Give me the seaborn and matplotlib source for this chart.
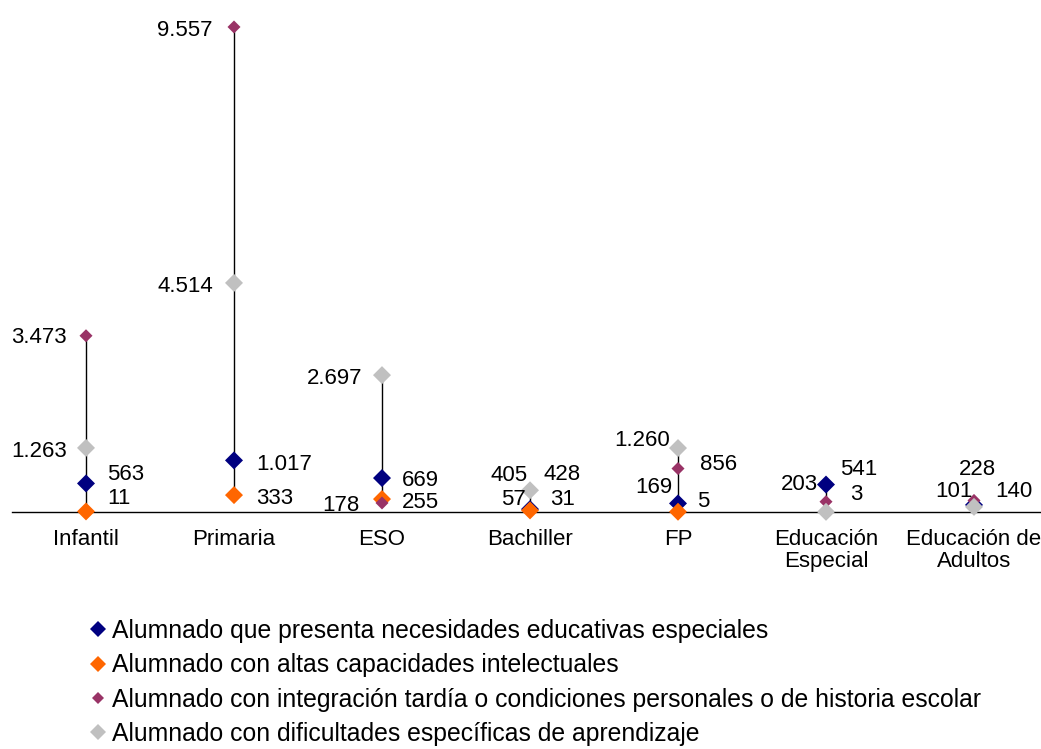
import numpy as np
import pandas as pd
import matplotlib
matplotlib.use('Agg')
import matplotlib.pyplot as plt
from matplotlib.lines import Line2D
import seaborn as sns

# Etapas educativas
etapas = ['Infantil', 'Primaria', 'ESO', 'Bachiller', 'FP',
          'Educación\nEspecial', 'Educación de\nAdultos']

# Series (nan = sin dato)
nee = [563, 1017, 669, 57, 169, 541, 140]
altas_cap = [11, 333, 255, 31, 5, np.nan, np.nan]
integracion = [3473, 9557, 178, 405, 856, 203, 228]
dificultades = [1263, 4514, 2697, 428, 1260, 3, 101]

series = [
    'Alumnado que presenta necesidades educativas especiales',
    'Alumnado con altas capacidades intelectuales',
    'Alumnado con integración tardía o condiciones personales o de historia escolar',
    'Alumnado con dificultades específicas de aprendizaje',
]
valores = [nee, altas_cap, integracion, dificultades]

colores = ['#000080', '#FF6600', '#993366', '#C0C0C0']
tamanos = [84, 84, 44, 84]

# posicion de cada etiqueta: (dx px, dy px, alineacion)
offsets = {
    (0, 0): (21, 11, 'left'), (0, 1): (21, 15, 'left'),
    (0, 2): (-19, 0, 'right'), (0, 3): (-19, -2, 'right'),
    (1, 0): (22, -2, 'left'), (1, 1): (22, -1, 'left'),
    (1, 2): (-21, -2, 'right'), (1, 3): (-21, -2, 'right'),
    (2, 0): (20, 0, 'left'), (2, 1): (20, -1, 'left'),
    (2, 2): (-22, -1, 'right'), (2, 3): (-20, -1, 'right'),
    (3, 0): (-4, 12, 'right'), (3, 1): (20, 13, 'left'),
    (3, 2): (-2, 18, 'right'), (3, 3): (13, 18, 'left'),
    (4, 0): (-6, 18, 'right'), (4, 1): (19, 12, 'left'),
    (4, 2): (22, 6, 'left'), (4, 3): (-8, 10, 'right'),
    (5, 0): (14, 17, 'left'), (5, 2): (-8, 19, 'right'),
    (5, 3): (24, 19, 'left'),
    (6, 0): (21, 15, 'left'), (6, 2): (3, 33, 'center'),
    (6, 3): (-1, 17, 'right'),
}

rows = []
for s, vals in zip(series, valores):
    for i, v in enumerate(vals):
        rows.append({'pos': i, 'serie': s, 'valor': v})
df = pd.DataFrame(rows)

sns.set_theme(style='white')
plt.rcParams['font.family'] = ['Liberation Sans', 'DejaVu Sans']

W, H = 1041, 749
fig = plt.figure(figsize=(W / 100, H / 100), dpi=100)
ax = fig.add_axes([12 / W, (H - 512) / H, 1036 / W, 507.5 / H])

# lineas de maximo a minimo
tabla = np.array(valores, dtype=float)
ax.vlines(range(len(etapas)), np.nanmin(tabla, axis=0), np.nanmax(tabla, axis=0),
          color='black', linewidth=1, zorder=1)

sns.scatterplot(data=df.dropna(), x='pos', y='valor', hue='serie', size='serie',
                palette=dict(zip(series, colores)), sizes=dict(zip(series, tamanos)),
                marker='D', linewidth=0, legend=False, ax=ax, clip_on=False, zorder=3)

def fmt(v):
    return f'{v:,.0f}'.replace(',', '.')

for j, vals in enumerate(valores):
    for i, v in enumerate(vals):
        if (i, j) not in offsets or np.isnan(v):
            continue
        dx, dy, ha = offsets[(i, j)]
        ax.annotate(fmt(v), (i, v), xytext=(dx * 0.72, (dy - 2) * 0.72),
                    textcoords='offset points', ha=ha, va='center',
                    fontsize=16, color='black', annotation_clip=False)

ax.set_xlim(-0.5, len(etapas) - 0.5)
ax.set_ylim(0, 10000)
ax.set_xticks(range(len(etapas)))
ax.set_xticklabels(etapas, fontsize=16, linespacing=1.1)
ax.set_yticks([])
ax.set_xlabel('')
ax.set_ylabel('')
for side in ['top', 'left', 'right']:
    ax.spines[side].set_visible(False)
ax.spines['bottom'].set_color('black')
ax.spines['bottom'].set_linewidth(1)
ax.tick_params(axis='x', length=0, pad=12, colors='black')
ax.patch.set_alpha(0)

handles = [Line2D([], [], marker='D', linestyle='none', markerfacecolor=c,
                  markeredgewidth=0, markersize=np.sqrt(t) * 0.85)
           for c, t in zip(colores, tamanos)]
fig.legend(handles, series, loc='upper left', bbox_to_anchor=(91 / W, 1 - 619 / H),
           frameon=False, fontsize=17.8, labelcolor='black', handlelength=0.55,
           handletextpad=0.3, labelspacing=0.42, borderpad=0, borderaxespad=0)

fig.savefig('out.png', dpi=100)
